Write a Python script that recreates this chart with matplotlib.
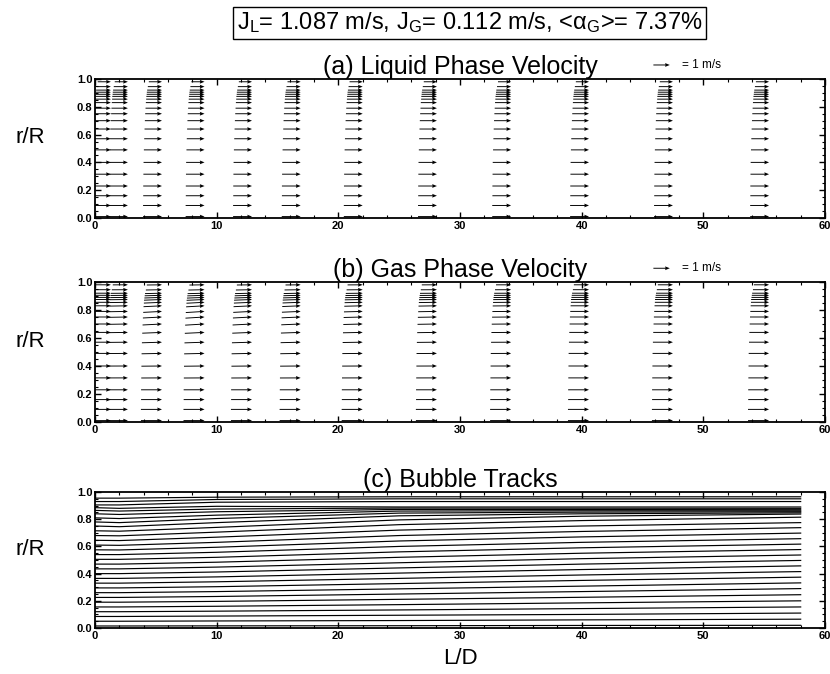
import numpy as np
import matplotlib
matplotlib.use('Agg')
import matplotlib.pyplot as plt
from matplotlib.ticker import MultipleLocator

plt.rcParams['font.family'] = ['Liberation Sans', 'DejaVu Sans']
plt.rcParams['mathtext.fontset'] = 'custom'
plt.rcParams['mathtext.rm'] = 'Liberation Sans'
plt.rcParams['mathtext.it'] = 'Liberation Sans:italic'

# measurement stations (L/D, arrow tips) and radial positions (r/R)
stations = [1.3, 2.7, 5.5, 9.0, 12.9, 16.9, 22.0, 28.1, 34.2, 40.6, 47.5, 55.4]
r_pos = [0.01, 0.09, 0.16, 0.23, 0.315, 0.40, 0.49, 0.57, 0.64, 0.70,
         0.75, 0.79, 0.83, 0.855, 0.875, 0.89, 0.905, 0.92, 0.945, 0.98]

# axial velocities (m/s) along r_pos
u_liq = [1.15, 1.15, 1.14, 1.14, 1.13, 1.12, 1.10, 1.08, 1.06, 1.04,
         1.02, 1.00, 0.98, 0.96, 0.95, 0.93, 0.92, 0.90, 0.86, 0.80]
u_gas = [1.28, 1.28, 1.27, 1.27, 1.26, 1.25, 1.24, 1.22, 1.20, 1.18,
         1.16, 1.14, 1.12, 1.10, 1.09, 1.07, 1.05, 1.03, 0.98, 0.92]
# small radial gas velocity near the wall at the first stations (m/s)
v_gas_station = [0.00, 0.02, 0.06, 0.07, 0.06, 0.05, 0.03, 0.02, 0.01, 0.00, 0.00, 0.00]
v_gas_shape = [0.0, 0.0, 0.0, 0.0, 0.1, 0.2, 0.4, 0.6, 0.8, 1.0,
               1.0, 1.0, 0.9, 0.8, 0.7, 0.6, 0.5, 0.4, 0.3, 0.2]

# bubble tracks: r/R at the knot positions
track_x = [0, 2, 10, 25, 40, 58]
tracks = [
    [0.955, 0.955, 0.962, 0.965, 0.965, 0.965],
    [0.93, 0.93, 0.945, 0.95, 0.95, 0.95],
    [0.905, 0.905, 0.925, 0.93, 0.93, 0.93],
    [0.885, 0.88, 0.895, 0.89, 0.89, 0.89],
    [0.865, 0.86, 0.875, 0.882, 0.881, 0.88],
    [0.84, 0.835, 0.855, 0.872, 0.871, 0.87],
    [0.81, 0.805, 0.83, 0.86, 0.862, 0.862],
    [0.78, 0.775, 0.805, 0.845, 0.852, 0.855],
    [0.75, 0.745, 0.775, 0.825, 0.84, 0.847],
    [0.715, 0.712, 0.74, 0.795, 0.822, 0.838],
    [0.68, 0.678, 0.705, 0.76, 0.79, 0.815],
    [0.645, 0.643, 0.668, 0.72, 0.75, 0.775],
    [0.61, 0.608, 0.63, 0.68, 0.71, 0.738],
    [0.575, 0.574, 0.594, 0.64, 0.67, 0.698],
    [0.54, 0.54, 0.557, 0.60, 0.63, 0.657],
    [0.505, 0.505, 0.52, 0.56, 0.59, 0.617],
    [0.47, 0.47, 0.484, 0.52, 0.55, 0.577],
    [0.435, 0.435, 0.448, 0.48, 0.51, 0.537],
    [0.40, 0.40, 0.412, 0.442, 0.47, 0.497],
    [0.365, 0.365, 0.376, 0.404, 0.43, 0.457],
    [0.33, 0.33, 0.34, 0.365, 0.39, 0.415],
    [0.295, 0.295, 0.304, 0.327, 0.35, 0.374],
    [0.26, 0.26, 0.268, 0.288, 0.308, 0.332],
    [0.225, 0.225, 0.232, 0.25, 0.268, 0.29],
    [0.19, 0.19, 0.196, 0.211, 0.226, 0.245],
    [0.155, 0.155, 0.16, 0.172, 0.185, 0.20],
    [0.12, 0.12, 0.124, 0.133, 0.143, 0.155],
    [0.085, 0.085, 0.088, 0.094, 0.10, 0.11],
    [0.05, 0.05, 0.052, 0.055, 0.06, 0.065],
    [0.015, 0.015, 0.016, 0.017, 0.019, 0.02],
]

fig = plt.figure(figsize=(8.3, 6.74), dpi=100)
left, width = 0.1145, 0.8795
ax_a = fig.add_axes([left, 0.6766, width, 0.2062])
ax_b = fig.add_axes([left, 0.3739, width, 0.2077])
ax_c = fig.add_axes([left, 0.0682, width, 0.2018])


def style_axes(ax, title):
    ax.set_xlim(0, 60)
    ax.set_ylim(0, 1)
    ax.xaxis.set_major_locator(MultipleLocator(10))
    ax.xaxis.set_minor_locator(MultipleLocator(2))
    ax.yaxis.set_major_locator(MultipleLocator(0.2))
    ax.yaxis.set_minor_locator(MultipleLocator(0.05))
    ax.yaxis.set_major_formatter(plt.FormatStrFormatter('%.1f'))
    ax.tick_params(which='both', direction='in', top=True, right=True,
                   labelsize=8, pad=2)
    ax.tick_params(which='major', length=4, width=1)
    ax.tick_params(which='minor', length=2, width=0.8)
    for lab in ax.get_xticklabels() + ax.get_yticklabels():
        lab.set_fontweight('bold')
    for sp in ax.spines.values():
        sp.set_linewidth(1.3)
    ax.set_ylabel('r/R', rotation=0, fontsize=16)
    ax.yaxis.set_label_coords(-0.089, 0.5)
    ax.set_title(title, fontsize=18, pad=1)


X, Y = np.meshgrid(stations, r_pos)
U_l = np.tile(np.array(u_liq)[:, None], (1, len(stations)))
V_l = np.zeros_like(U_l)
U_g = np.tile(np.array(u_gas)[:, None], (1, len(stations)))
V_g = np.array(v_gas_shape)[:, None] * np.array(v_gas_station)[None, :]

qkw = dict(pivot='tip', angles='uv', scale_units='x', scale=1 / 1.35,
           width=0.0013, headwidth=4, headlength=5, headaxislength=4.5,
           color='black')

qa = ax_a.quiver(X, Y, U_l, V_l, **qkw)
ax_a.quiverkey(qa, 0.807, 0.9036, 1, '= 1 m/s', labelpos='E',
               coordinates='figure', labelsep=0.12, fontproperties={'size': 8.5})
style_axes(ax_a, '(a) Liquid Phase Velocity')

qb = ax_b.quiver(X, Y, U_g, V_g, **qkw)
ax_b.quiverkey(qb, 0.807, 0.602, 1, '= 1 m/s', labelpos='E',
               coordinates='figure', labelsep=0.12, fontproperties={'size': 8.5})
style_axes(ax_b, '(b) Gas Phase Velocity')

for tr in tracks:
    ax_c.plot(track_x, tr, color='black', lw=0.85)
style_axes(ax_c, '(c) Bubble Tracks')
ax_c.set_xlabel('L/D', fontsize=16, labelpad=5)

fig.text(0.566, 0.966,
         r'J$_\mathregular{L}$= 1.087 m/s, J$_\mathregular{G}$= 0.112 m/s, '
         r'<α$_\mathregular{G}$>= 7.37%',
         ha='center', va='center', fontsize=17,
         bbox=dict(boxstyle='square,pad=0.15', fc='white', ec='black', lw=1))

fig.savefig('out.png', dpi=100)
